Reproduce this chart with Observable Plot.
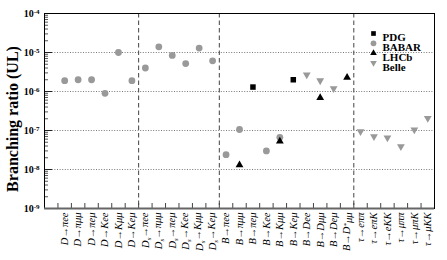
<!DOCTYPE html>
<html><head><meta charset="utf-8">
<script src="https://cdn.jsdelivr.net/npm/d3@7"></script>
<script src="https://cdn.jsdelivr.net/npm/@observablehq/plot@0.6"></script>
<style>body{margin:0;background:#fff}</style>
</head><body><div id="chart"></div>
<script>
// ---- data ----
const categories = [
  "D→πee","D→πμμ","D→πeμ","D→Kee","D→Kμμ","D→Keμ",
  "D_s→πee","D_s→πμμ","D_s→πeμ","D_s→Kee","D_s→Kμμ","D_s→Keμ",
  "B→πee","B→πμμ","B→πeμ","B→Kee","B→Kμμ","B→Keμ","B→Dee","B→Dμμ","B→Deμ","B→D^*μμ",
  "τ→eππ","τ→eπK","τ→eKK","τ→μππ","τ→μπK","τ→μKK"
];
const pdg   = [null,null,null,null,null,null, null,null,null,null,null,null,
               null,null,1.3e-6,null,null,2.0e-6,null,null,null,null, null,null,null,null,null,null];
const babar = [1.9e-6,2.0e-6,2.0e-6,9.0e-7,1.0e-5,1.9e-6, 4.0e-6,1.4e-5,8.4e-6,5.2e-6,1.3e-5,6.1e-6,
               2.4e-8,1.06e-7,null,3.0e-8,6.7e-8,null,null,null,null,null, null,null,null,null,null,null];
const lhcb  = [null,null,null,null,null,null, null,null,null,null,null,null,
               null,1.3e-8,null,null,5.3e-8,null,null,6.9e-7,null,2.3e-6, null,null,null,null,null,null];
const belle = [null,null,null,null,null,null, null,null,null,null,null,null,
               null,null,null,null,null,null,2.7e-6,1.9e-6,1.2e-6,null, 9.4e-8,7.0e-8,6.5e-8,3.9e-8,1.04e-7,2.07e-7];
const groupBounds = [7, 13, 23];
const gridValues = [1e-8, 1e-7, 1e-6, 1e-5];
const yTickValues = [1e-9, 1e-8, 1e-7, 1e-6, 1e-5, 1e-4];
const legendNames = ["PDG", "BABAR", "LHCb", "Belle"];

// ---- layout ----
const W = 447, H = 260, mL = 44, mR = 13, mT = 13, mB = 52;
const iw = W - mL - mR, ih = H - mT - mB;

const rows = categories.map((c, i) => ({i, x: i + 1.5, c, pdg: pdg[i], babar: babar[i], lhcb: lhcb[i], belle: belle[i]}));
const minorTicks = [];
for (let k = -9; k < -4; k++) for (let m = 2; m <= 9; m++) minorTicks.push(m * Math.pow(10, k));

const styles = {
  PDG:   {symbol: "square", fill: "black", r: 3.1, rotate: 0},
  BABAR: {symbol: "circle", fill: "#999", r: 3.4, rotate: 0},
  LHCb:  {symbol: "triangle", fill: "black", r: 2.9, rotate: 0},
  Belle: {symbol: "triangle", fill: "#999", r: 2.9, rotate: 180}
};
const series = {PDG: "pdg", BABAR: "babar", LHCb: "lhcb", Belle: "belle"};

const serif = "'Liberation Serif', 'Times New Roman', serif";
const marks = [
  Plot.ruleY(gridValues, {stroke: "#777", strokeDasharray: "1,1.6"}),
  Plot.ruleX(groupBounds, {stroke: "#444", strokeDasharray: "4.5,3"}),
  Plot.tickX(d3.range(1, 29), {insetTop: ih - 5, stroke: "#444"}),
  Plot.tickY(yTickValues, {insetRight: iw - 8, stroke: "#222"}),
  Plot.tickY(minorTicks, {insetRight: iw - 4, stroke: "#555"}),
  Plot.frame({stroke: "black"}),
  Plot.ruleY([1e-9], {stroke: "#666", strokeWidth: 2}),
  Plot.axisY(yTickValues, {label: null, tickSize: 0, tickPadding: 5, tickFormat: d => "10^" + Math.round(Math.log10(d)), fontWeight: "bold", fontSize: 10, fill: "black"}),
  Plot.axisX(rows.map(d => d.x), {label: null, tickSize: 0, tickRotate: -90, tickPadding: 4, tickFormat: x => categories[Math.round(x - 1.5)], fontStyle: "italic", fontSize: 10.5, fill: "black"}),
  Plot.text(["Branching ratio (UL)"], {frameAnchor: "left", textAnchor: "middle", rotate: -90, dx: -32, dy: 8, fontSize: 16, fontWeight: "bold", fill: "black"})
];
for (const name of legendNames) {
  const s = styles[name], key = series[name];
  marks.push(Plot.dot(rows.filter(d => d[key] != null), {x: "x", y: key, r: s.r, fill: s.fill, symbol: s.symbol, rotate: s.rotate}));
}
legendNames.forEach((name, j) => {
  const s = styles[name];
  marks.push(Plot.dot([name], {frameAnchor: "top-right", dx: -61, dy: 20 + j * 9.8, r: s.r * 0.85, fill: s.fill, symbol: s.symbol, rotate: s.rotate}));
  marks.push(Plot.text([name], {frameAnchor: "top-right", dx: -52, dy: 20 + j * 9.8, text: d => d, textAnchor: "start", fontSize: 11, fontWeight: "bold", fill: "black"}));
});

const chart = Plot.plot({
  width: W, height: H, marginLeft: mL, marginRight: mR, marginTop: mT, marginBottom: mB,
  style: {fontFamily: serif, background: "white", color: "black"},
  x: {type: "linear", domain: [0, 29], axis: null},
  y: {type: "log", domain: [1e-9, 1e-4], axis: null},
  marks
});

// superscripts / subscripts
d3.select(chart).selectAll('[aria-label="y-axis tick label"] text').each(function() {
  const t = d3.select(this), s = t.text();
  const [base, exp] = s.split("^");
  t.text(base);
  t.append("tspan").attr("dy", "-0.45em").attr("font-size", "7").text(exp);
});
d3.select(chart).selectAll('[aria-label="x-axis tick label"] text').each(function() {
  const t = d3.select(this), s = t.text();
  const m = s.match(/^(.*?)([_^])(.)(.*)$/);
  if (!m) return;
  t.text(m[1]);
  const sub = m[2] === "_";
  t.append("tspan").attr("dy", sub ? "0.3em" : "-0.4em").attr("font-size", "7").text(m[3]);
  t.append("tspan").attr("dy", sub ? "-0.3em" : "0.4em").text(m[4]);
});
document.getElementById("chart").appendChild(chart);
</script>
</body></html>
